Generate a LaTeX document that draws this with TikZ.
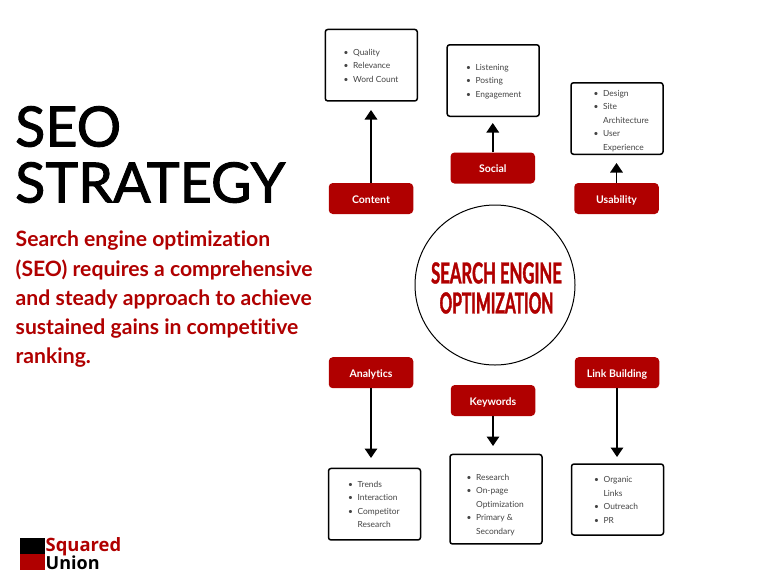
\documentclass[tikz,border=0pt]{standalone}
\usepackage{fontspec}
\setmainfont[Ligatures=NoCommon]{Lato}
\newfontfamily\titlefont[FakeBold=1.7,Ligatures=NoCommon]{Lato}
\newfontfamily\condfont[FakeStretch=0.575,FakeBold=1.2]{Lato}
\newfontfamily\condfontb[FakeStretch=0.54,FakeBold=1.2]{Lato}
\newfontfamily\logofont{Open Sans}
\usetikzlibrary{arrows.meta}
\definecolor{seored}{HTML}{B00000}
\definecolor{listgray}{HTML}{444444}
\newcommand{\bul}{\makebox[9.4pt][l]{\textbullet}}
\newcommand{\nobul}{\hspace*{9.4pt}}
\tikzset{
  x=1pt,y=-1pt,
  listbox/.style={draw=black,line width=1.5pt,rounded corners=2.5pt,fill=white,minimum width=92pt,inner sep=0pt},
  redbox/.style={fill=seored,rounded corners=4pt,minimum width=84.5pt,minimum height=31pt,inner sep=0pt,text=white,text height=9.7pt,text depth=0pt,font=\fontsize{10.5}{12}\selectfont\bfseries},
  listtext/.style={anchor=west,align=left,inner sep=0pt,text=listgray,font=\fontsize{8.4}{13.5}\selectfont},
  flow/.style={draw=black,line width=1.5pt,-{Triangle[width=12.5pt,length=9.5pt]}},
}
\begin{document}
\begin{tikzpicture}
\useasboundingbox (0,0) rectangle (768,576);
% left column
\node (title) [anchor=north west,align=left,inner sep=0pt,font=\titlefont\fontsize{55.6}{56}\selectfont] at (15,106) {SEO\\STRATEGY};
\node (intro) [anchor=north west,align=left,inner sep=0pt,text=seored,font=\fontsize{21.15}{29.2}\selectfont\bfseries] at (15.5,231) {Search engine optimization\\(SEO) requires a comprehensive\\and steady approach to achieve\\sustained gains in competitive\\ranking.};
% centre
\node (hub) [circle,draw=black,line width=1pt,minimum size=160pt,inner sep=0pt] at (495,285) {};
\node (hubtext) [align=center,inner sep=0pt,text=seored,font=\fontsize{29}{30}\selectfont\bfseries] at (496.5,288) {{\condfont\bfseries SEARCH ENGINE}\\{\condfontb\bfseries OPTIMIZATION}};
% category boxes
\node (content) [redbox] at (371,198.5) {Content};
\node (social) [redbox] at (492.75,168) {Social};
\node (usability) [redbox] at (616.5,198.5) {Usability};
\node (analytics) [redbox] at (371,372.7) {Analytics};
\node (keywords) [redbox] at (493,400.5) {Keywords};
\node (linkbuilding) [redbox] at (617,372.7) {Link Building};
% list boxes
\node (contentlist) [listbox,minimum height=71.5pt] at (371.3,65.2) {};
\node (sociallist) [listbox,minimum height=71.5pt] at (493.2,80.5) {};
\node (usabilitylist) [listbox,minimum height=71.5pt] at (617,118.5) {};
\node (analyticslist) [listbox,minimum height=71.5pt] at (374.5,504.2) {};
\node (keywordslist) [listbox,minimum height=89.5pt] at (496,499.2) {};
\node (linklist) [listbox,minimum height=71pt] at (617.5,499.5) {};
% list texts
\node (contenttext) [listtext] at (343.5,65.5) {\bul Quality\\\bul Relevance\\\bul Word Count};
\node (socialtext) [listtext] at (466,81.2) {\bul Listening\\\bul Posting\\\bul Engagement};
\node (usabilitytext) [listtext] at (593.5,120.7) {\bul Design\\\bul Site\\\nobul Architecture\\\bul User\\\nobul Experience};
\node (analyticstext) [listtext] at (348,504.3) {\bul Trends\\\bul Interaction\\\bul Competitor\\\nobul Research};
\node (keywordstext) [listtext] at (466.5,504.7) {\bul Research\\\bul On-page\\\nobul Optimization\\\bul Primary \&\\\nobul Secondary};
\node (linktext) [listtext] at (594,499.7) {\bul Organic\\\nobul Links\\\bul Outreach\\\bul PR};
% arrows
\coordinate (contenttip) at (371,110);
\coordinate (socialtip) at (492.75,123);
\coordinate (usabilitytip) at (616.5,163);
\coordinate (analyticstip) at (371,458);
\coordinate (keywordstip) at (493,446);
\coordinate (linktip) at (617,457);
\draw[flow] (content.north) -- (contenttip);
\draw[flow] (social.north) -- (socialtip);
\draw[flow] (usability.north) -- (usabilitytip);
\draw[flow] (analytics.south) -- (analyticstip);
\draw[flow] (keywords.south) -- (keywordstip);
\draw[flow] (linkbuilding.south) -- (linktip);
% logo
\fill[black] (19.5,538) rectangle (44.5,553.7);
\fill[seored] (19.5,553.7) rectangle (44.5,570);
\node (logotop) [anchor=west,inner sep=0pt,text=seored,font=\logofont\fontsize{18.4}{18}\selectfont\bfseries] at (45.5,546.5) {Squared};
\node (logobottom) [anchor=west,inner sep=0pt,text=black,font=\logofont\fontsize{18}{18}\selectfont\bfseries] at (45.5,562.5) {Union};
\end{tikzpicture}
\end{document}
